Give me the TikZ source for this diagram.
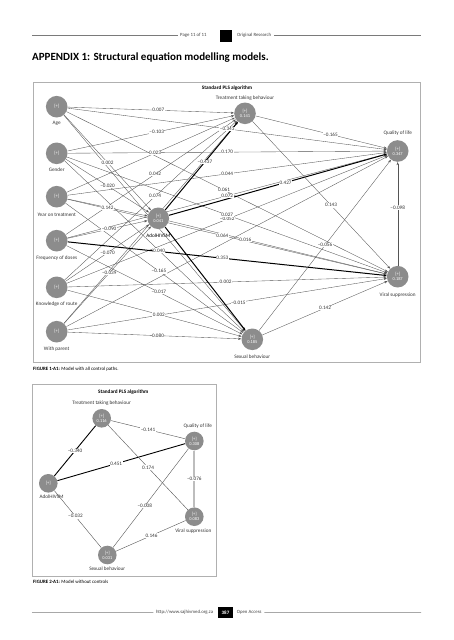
\documentclass[tikz,border=0pt]{standalone}
\usepackage{fontspec}
\setmainfont{Carlito}
\usetikzlibrary{arrows.meta}
\definecolor{nodegray}{HTML}{8C8C8C}
\definecolor{linegray}{HTML}{555555}
\definecolor{boxgray}{HTML}{B0B0B0}
\definecolor{rulegray}{HTML}{7A7A7A}
\definecolor{palegray}{HTML}{BDBDBD}
\pgfdeclarelayer{edges}
\pgfsetlayers{edges,main}
\newcommand\pathlab[5][]{%
  \begin{pgfonlayer}{edges}\draw[pth,#1] (#2) -- (#3);\end{pgfonlayer}%
  \path (#2) -- node[coef,pos=#4]{#5} (#3);}
\newcommand\pathnolab[3][]{%
  \begin{pgfonlayer}{edges}\draw[pth,#1] (#2) -- (#3);\end{pgfonlayer}}
\newcommand\undlab[5][]{%
  \begin{pgfonlayer}{edges}\draw[lnktwo,#1] (#2) -- (#3);\end{pgfonlayer}%
  \path (#2) -- node[coef,pos=#4]{#5} (#3);}
\begin{document}
\begin{tikzpicture}[x=1pt,y=-1pt,
  lv/.style={circle, fill=nodegray, minimum size=21.6pt, inner sep=0pt, text=white,
    font=\fontsize{4.4}{5}\selectfont, align=center},
  lvtwo/.style={lv, minimum size=18.6pt},
  nlab/.style={font=\fontsize{5.2}{6}\selectfont, text=black!80, inner sep=0.5pt},
  pth/.style={draw=linegray, line width=0.35pt, -{Stealth[length=3.2pt,width=2.3pt]}},
  thickp/.style={draw=black, line width=1pt},
  lnktwo/.style={draw=linegray, line width=0.4pt},
  thicktwo/.style={draw=black, line width=0.9pt},
  palethick/.style={draw=palegray, line width=2pt},
  coef/.style={fill=white, inner sep=0.5pt, font=\fontsize{5.2}{6}\selectfont, text=black!80},
  hdr/.style={font=\fontsize{4.8}{6}\selectfont, text=black!75, inner sep=2.5pt},
  rule/.style={draw=rulegray, line width=0.5pt},
  frame/.style={draw=boxgray, line width=0.7pt},
  ttl/.style={font=\bfseries\fontsize{5.2}{6}\selectfont}
]
\useasboundingbox (0,0) rectangle (453,640);

% ---------- header ----------
\node[hdr, anchor=west] (pg) at (177.5,35.5) {Page 11 of 11};
\node[fill=black, minimum size=12pt, inner sep=0pt] (sq) at (226,35.5) {};
\node[hdr, anchor=west] (orig) at (234.5,35.5) {Original Research};
\coordinate (hl) at (32,35.5);
\coordinate (hr) at (421,35.5);
\draw[rule] (hl) -- (pg.west);
\draw[rule] (orig.east) -- (hr);

\node[anchor=west, inner sep=0pt, font=\bfseries\fontsize{11}{13}\selectfont] (title) at (32,57.5)
  {APPENDIX 1: Structural equation modelling models.};

% ---------- figure 1 ----------
\draw[frame] (33,82) rectangle (420,362);
\node[ttl] (std1) at (227,88.5) {Standard PLS algorithm};

\node[lv] (age) at (56.7,106.7) {[+]};
\node[lv] (gen) at (56.7,153.3) {[+]};
\node[lv] (yot) at (56.7,196.7) {[+]};
\node[lv] (fod) at (56.7,240.7) {[+]};
\node[lv] (kor) at (56.7,287.3) {[+]};
\node[lv] (wp)  at (56.7,331.7) {[+]};
\node[lv] (adol) at (158.3,218.3) {[+]\\0.041};
\node[lv] (ttb) at (245,113.3) {[+]\\0.141};
\node[lv] (qol) at (397.7,151) {[+]\\0.347};
\node[lv] (vs)  at (397.7,276.7) {[+]\\0.187};
\node[lv] (sb)  at (252.3,339.3) {[+]\\0.185};

\node[nlab] (agel) at (56.7,123) {Age};
\node[nlab] (genl) at (56.7,170) {Gender};
\node[nlab] (yotl) at (56.7,215) {Year on treatment};
\node[nlab] (fodl) at (56.7,257.7) {Frequency of doses};
\node[nlab] (korl) at (56.7,304) {Knowledge of route};
\node[nlab] (wpl)  at (56.7,349) {With parent};
\node[nlab, text=black] (adoll) at (158.3,236) {AdolHIVSM};
\node[nlab] (ttbl) at (245,98) {Treatment taking behaviour};
\node[nlab] (qoll) at (397.7,133) {Quality of life};
\node[nlab] (vsl)  at (397.7,295) {Viral suppression};
\node[nlab] (sbl)  at (252.3,356.7) {Sexual behaviour};

% controls -> AdolHIVSM
\pathlab{age}{adol}{0.5}{0.002}
\pathlab{gen}{adol}{0.5}{−0.020}
\pathlab{yot}{adol}{0.5}{0.142}
\pathlab{fod}{adol}{0.52}{−0.090}
\pathlab{kor}{adol}{0.5}{−0.070}
\pathlab{wp}{adol}{0.52}{−0.039}
% controls -> treatment taking behaviour
\pathlab{age}{ttb}{0.545}{0.007}
\pathlab{gen}{ttb}{0.535}{−0.103}
\pathlab{yot}{ttb}{0.525}{0.023}
\pathlab{fod}{ttb}{0.525}{0.042}
\pathlab{kor}{ttb}{0.525}{0.074}
\pathnolab{wp}{ttb}
% controls -> quality of life
\pathlab{age}{qol}{0.5}{−0.343}
\pathlab{gen}{qol}{0.5}{0.170}
\pathlab{yot}{qol}{0.5}{0.044}
\pathlab{fod}{qol}{0.5}{0.072}
\pathlab{kor}{qol}{0.5}{−0.052}
\pathnolab{wp}{qol}
% controls -> viral suppression
\pathlab{age}{vs}{0.49}{0.061}
\pathlab{gen}{vs}{0.5}{0.027}
\pathlab{yot}{vs}{0.485}{0.064}
\pathlab[thickp]{fod}{vs}{0.485}{0.353}
\pathlab{kor}{vs}{0.495}{0.002}
\pathlab{wp}{vs}{0.535}{−0.015}
% controls -> sexual behaviour
\pathnolab{age}{sb}
\pathlab{gen}{sb}{0.525}{0.040}
\pathlab{yot}{sb}{0.525}{−0.165}
\pathlab{fod}{sb}{0.525}{−0.017}
\pathlab{kor}{sb}{0.525}{0.002}
\pathlab{wp}{sb}{0.52}{0.080}
% structural paths
\pathlab[thickp]{adol}{ttb}{0.545}{−0.437}
\pathlab[thickp]{adol}{qol}{0.535}{0.427}
\pathlab{adol}{vs}{0.35}{0.016}
\pathnolab[thickp]{adol}{sb}
\pathlab{ttb}{qol}{0.57}{−0.165}
\pathlab{ttb}{vs}{0.57}{0.143}
\pathlab{vs}{qol}{0.56}{−0.098}
\pathlab{sb}{vs}{0.5}{0.142}
\pathlab{sb}{qol}{0.5}{−0.056}

\node[anchor=west, inner sep=0pt, font=\fontsize{4.9}{6}\selectfont] (cap1) at (33,369)
  {\textbf{FIGURE 1-A1:} Model with all control paths.};

% ---------- figure 2 ----------
\draw[frame] (32.7,384) rectangle (216,576);
\node[ttl] (std2) at (123.3,392.3) {Standard PLS algorithm};

\node[lvtwo] (ttbb) at (101.7,418.3) {[+]\\0.116};
\node[lvtwo] (qolb) at (194.3,441) {[+]\\0.308};
\node[lvtwo] (adolb) at (48.3,483.3) {[+]};
\node[lvtwo] (vsb) at (194.3,516.7) {[+]\\0.083};
\node[lvtwo] (sbb) at (107.3,555) {[+]\\0.031};

\node[nlab] (ttbbl) at (101.7,403.3) {Treatment taking behaviour};
\node[nlab] (qolbl) at (197.7,425.7) {Quality of life};
\node[nlab] (adolbl) at (51.7,496.7) {AdolHIVSM};
\node[nlab] (vsbl) at (193.3,531) {Viral suppression};
\node[nlab] (sbbl) at (107.3,569) {Sexual behaviour};

\undlab[thicktwo]{adolb}{ttbb}{0.5}{−0.340}
\undlab{ttbb}{qolb}{0.5}{−0.141}
\undlab[thicktwo]{adolb}{qolb}{0.46}{0.451}
\undlab{ttbb}{vsb}{0.5}{0.174}
\undlab[palethick]{qolb}{vsb}{0.5}{−0.076}
\undlab{adolb}{sbb}{0.45}{−0.032}
\undlab{qolb}{sbb}{0.58}{−0.008}
\undlab{sbb}{vsb}{0.51}{0.146}

\node[anchor=west, inner sep=0pt, font=\fontsize{4.9}{6}\selectfont] (cap2) at (33,582)
  {\textbf{FIGURE 2-A1:} Model without controls};

% ---------- footer ----------
\node[fill=black, text=white, font=\bfseries\fontsize{5}{6}\selectfont,
  minimum width=14.5pt, minimum height=11.5pt, inner sep=0pt] (pgno) at (225.5,612.5) {387};
\node[hdr, anchor=east] (url) at (215.8,612.5) {http://www.sajhivmed.org.za};
\node[hdr, anchor=west] (oa) at (234.2,612.5) {Open Access};
\coordinate (fl) at (32,612.7);
\coordinate (fr) at (421,612.7);
\draw[rule] (fl) -- (url.west);
\draw[rule] (oa.east) -- (fr);
\end{tikzpicture}
\end{document}
